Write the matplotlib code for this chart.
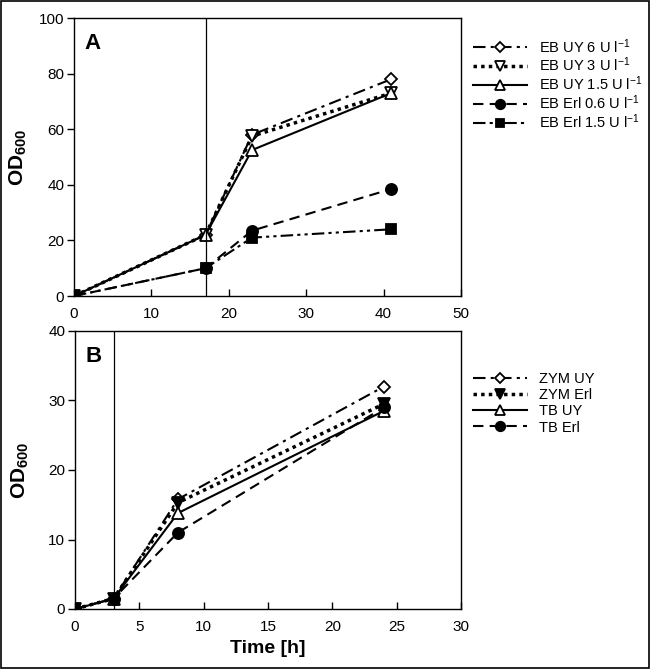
import matplotlib
matplotlib.use("Agg")
import matplotlib.pyplot as plt
from matplotlib.patches import Rectangle

plt.rcParams['font.family'] = ['Liberation Sans', 'DejaVu Sans']
plt.rcParams['mathtext.fontset'] = 'custom'
plt.rcParams['mathtext.rm'] = 'Liberation Sans'
plt.rcParams['mathtext.default'] = 'regular'

# Panel A data
time_a = [0, 17, 23, 41]
eb_uy6 = [0, 22, 58, 78]
eb_uy3 = [0, 22, 57.5, 73]
eb_uy15 = [0, 22, 52.5, 73]
eb_erl06 = [0, 10, 23.5, 38.5]
eb_erl15 = [0, 10, 21, 24]
labels_a = ['EB UY 6 U l$^{-1}$', 'EB UY 3 U l$^{-1}$', 'EB UY 1.5 U l$^{-1}$',
            'EB Erl 0.6 U l$^{-1}$', 'EB Erl 1.5 U l$^{-1}$']
induction_a = 17

# Panel B data
time_b = [0, 3, 8, 24]
zym_uy = [0, 1.5, 15.8, 32]
zym_erl = [0, 1.5, 15.3, 29.5]
tb_uy = [0, 1.5, 13.8, 28.5]
tb_erl = [0, 1.5, 11, 29]
labels_b = ['ZYM UY', 'ZYM Erl', 'TB UY', 'TB Erl']
induction_b = 3

fig = plt.figure(figsize=(6.5, 6.69), dpi=100)
fig.patches.append(Rectangle((0.001, 0.001), 0.997, 0.997, transform=fig.transFigure,
                             fill=False, edgecolor='black', linewidth=1.2))

axA = fig.add_axes([74/650, 1-296/669, 387/650, 278/669])
axB = fig.add_axes([75/650, 1-609/669, 386/650, 278/669])

lw = 1.5
ms = 8
dashdot = (0, (6, 2.5, 1.5, 2.5))
dashdotdot = (0, (6, 2, 1.5, 2, 1.5, 2))
dotted = (0, (1, 1.2))
dashed = (0, (5, 3))

sA = [
    dict(y=eb_uy6, ls=dashdot, marker='D', mfc='white', ms=ms-1.5),
    dict(y=eb_uy3, ls=dotted, marker='v', mfc='white', ms=ms+1, lw=2.5),
    dict(y=eb_uy15, ls='-', marker='^', mfc='white', ms=ms+1),
    dict(y=eb_erl06, ls=dashed, marker='o', mfc='black', ms=ms),
    dict(y=eb_erl15, ls=dashdotdot, marker='s', mfc='black', ms=ms-0.5),
]
hA = []
for s, lab in zip(sA, labels_a):
    h, = axA.plot(time_a, s['y'], color='black', linestyle=s['ls'], lw=s.get('lw', lw),
                  marker=s['marker'], markerfacecolor=s['mfc'], markeredgecolor='black',
                  markersize=s['ms'], markeredgewidth=1.3, label=lab)
    hA.append(h)

sB = [
    dict(y=zym_uy, ls=dashdot, marker='D', mfc='white', ms=ms-1.5),
    dict(y=zym_erl, ls=dotted, marker='v', mfc='black', ms=ms+1, lw=2.5),
    dict(y=tb_uy, ls='-', marker='^', mfc='white', ms=ms+1),
    dict(y=tb_erl, ls=dashed, marker='o', mfc='black', ms=ms),
]
hB = []
for s, lab in zip(sB, labels_b):
    h, = axB.plot(time_b, s['y'], color='black', linestyle=s['ls'], lw=s.get('lw', lw),
                  marker=s['marker'], markerfacecolor=s['mfc'], markeredgecolor='black',
                  markersize=s['ms'], markeredgewidth=1.3, label=lab)
    hB.append(h)

axA.axvline(induction_a, color='black', lw=0.9)
axB.axvline(induction_b, color='black', lw=0.9)

axA.set_xlim(0, 50); axA.set_ylim(0, 100)
axA.set_xticks(range(0, 51, 10)); axA.set_yticks(range(0, 101, 20))
axB.set_xlim(0, 30); axB.set_ylim(0, 40)
axB.set_xticks(range(0, 31, 5)); axB.set_yticks(range(0, 41, 10))

for ax in (axA, axB):
    ax.tick_params(axis='x', direction='in', length=5, width=1, labelsize=11, pad=8)
    ax.tick_params(axis='y', direction='out', length=5, width=1, labelsize=11, pad=2)
    for sp in ax.spines.values():
        sp.set_linewidth(1.0)
    ax.set_ylabel('OD$_{600}$', fontsize=15, fontweight='bold')
    ax.patch.set_alpha(0)

axA.yaxis.set_label_coords(-0.115, 0.5)
axB.yaxis.set_label_coords(-0.115, 0.5)
axB.set_xlabel('Time [h]', fontsize=14, fontweight='bold', labelpad=4)

axA.text(0.026, 0.89, 'A', transform=axA.transAxes, fontsize=16, fontweight='bold')
axB.text(0.026, 0.89, 'B', transform=axB.transAxes, fontsize=16, fontweight='bold')

legkw = dict(frameon=False, fontsize=10.5, handlelength=3.7, handletextpad=0.8,
             numpoints=1, borderaxespad=0, borderpad=0, loc='upper left',
             bbox_transform=fig.transFigure, markerscale=0.85)
fig.legend(handles=hA, bbox_to_anchor=(473/650, 1-37/669), labelspacing=0.02, **legkw)
fig.legend(handles=hB, bbox_to_anchor=(473/650, 1-372/669), labelspacing=0.15, **legkw)

fig.savefig('out.png', dpi=100)
